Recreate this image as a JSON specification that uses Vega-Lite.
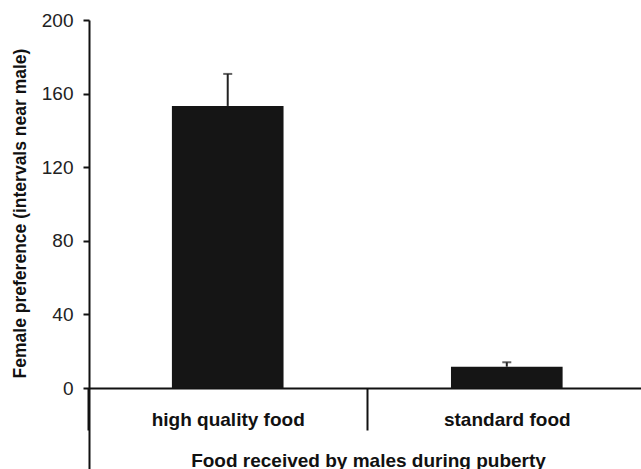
{
  "$schema": "https://vega.github.io/schema/vega-lite/v6.json",
  "width": 552,
  "height": 449,
  "autosize": "none",
  "padding": {"left": 89, "top": 20, "right": 0, "bottom": 0},
  "background": "white",
  "config": {
    "view": {"stroke": null},
    "font": "Liberation Sans"
  },
  "data": {
    "values": [
      {"food": "high quality food", "mean": 153.3, "upper": 170.7},
      {"food": "standard food", "mean": 11.6, "upper": 14.0}
    ]
  },
  "encoding": {
    "x": {
      "field": "food",
      "type": "nominal",
      "sort": null,
      "scale": {"paddingInner": 0.6, "paddingOuter": 0.289, "align": 0.514},
      "axis": {
        "title": "Food received by males during puberty",
        "titleFont": "Liberation Sans",
        "titleFontSize": 19,
        "titleFontWeight": "bold",
        "titleColor": "#111111",
        "titleX": 279,
        "titleY": 78,
        "titleBaseline": "alphabetic",
        "titleAnchor": null,
        "labelAngle": 0,
        "labelFont": "Liberation Sans",
        "labelFontSize": 19,
        "labelFontWeight": "bold",
        "labelColor": "#111111",
        "labelBaseline": "alphabetic",
        "labelPadding": -5,
        "tickOffset": -139.5,
        "labelOffset": 139.5,
        "offset": -81,
        "domain": true,
        "domainColor": "#111111",
        "domainWidth": 2,
        "ticks": true,
        "tickSize": 42,
        "tickWidth": 2,
        "tickColor": "#111111",
        "grid": false
      }
    }
  },
  "layer": [
    {
      "mark": {"type": "bar", "color": "#151515"},
      "encoding": {
        "y": {
          "field": "mean",
          "type": "quantitative",
          "scale": {"domain": [-44, 200], "nice": false, "zero": false},
          "axis": {
            "values": [0, 40, 80, 120, 160, 200],
            "title": "Female preference (intervals near male)",
            "titleFont": "Liberation Sans",
            "titleFontSize": 17.5,
            "titleFontWeight": "bold",
            "titleColor": "#111111",
            "titleX": -69,
            "titleY": 193,
            "titleAngle": -90,
            "titleAlign": "center",
            "titleBaseline": "middle",
            "titleAnchor": null,
            "labelFont": "Liberation Sans",
            "labelFontSize": 19,
            "labelColor": "#222222",
            "labelPadding": 10,
            "domainColor": "#111111",
            "domainWidth": 2,
            "tickSize": 6,
            "tickWidth": 2,
            "tickColor": "#111111",
            "grid": false
          }
        }
      }
    },
    {
      "mark": {"type": "rule", "color": "#222222", "strokeWidth": 2},
      "encoding": {
        "y": {"field": "mean", "type": "quantitative"},
        "y2": {"field": "upper"}
      }
    },
    {
      "mark": {"type": "tick", "color": "#222222", "thickness": 2, "size": 9},
      "encoding": {
        "y": {"field": "upper", "type": "quantitative"}
      }
    }
  ]
}
